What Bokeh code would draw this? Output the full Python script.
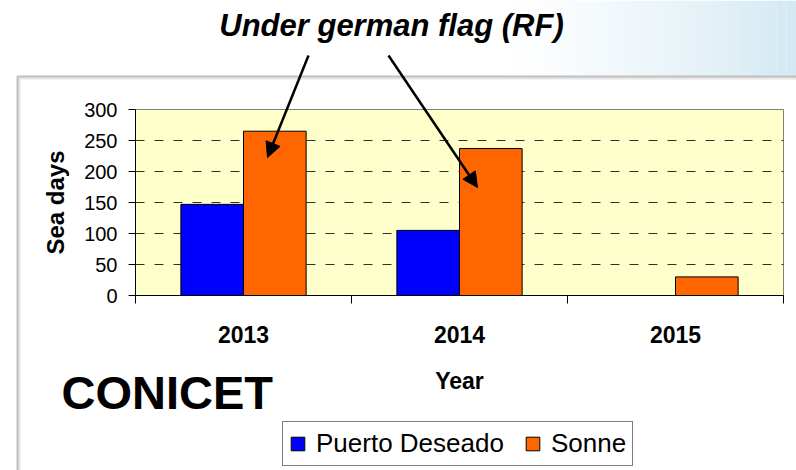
from bokeh.plotting import figure
from bokeh.models import (Range1d, FixedTicker, Label, Arrow, NormalHead, BoxAnnotation,
                          Legend, LegendItem, ColumnDataSource)
from bokeh.embed import file_html
from bokeh.resources import INLINE

# ---- data ----
years = ["2013", "2014", "2015"]
puerto_deseado = [147, 105, 0]
sonne = [265, 237, 30]
y_ticks = [0, 50, 100, 150, 200, 250, 300]
series_names = ["Puerto Deseado", "Sonne"]
series_colors = ["#0000FF", "#FF6600"]

FONT = "Liberation Sans"
W, H = 796, 470
# plot area (pixels from the top-left of the canvas)
PL, PR, PT, PB = 135, 783, 109, 295
NX, YMAX = len(years), y_ticks[-1]
SX = (PR - PL) / NX          # px per category
SY = (PB - PT) / YMAX        # px per day


def dx(px):  # canvas pixel -> data x
    return (px - PL) / SX


def dy(py):  # canvas pixel -> data y
    return (PB - py) / SY


pos = [i + 0.5 for i in range(NX)]
bw = 0.29
src = ColumnDataSource(dict(
    xb=[p_ - bw / 2 for p_ in pos], xo=[p_ + bw / 2 for p_ in pos],
    pd=puerto_deseado, so=sonne))

p = figure(width=W, height=H, output_backend="svg", toolbar_location=None,
           x_range=Range1d(dx(0), dx(W)), y_range=Range1d(dy(H), dy(0)),
           min_border=0, min_border_left=0, min_border_right=0,
           min_border_top=0, min_border_bottom=0)
p.background_fill_color = "white"
p.border_fill_color = "white"
p.outline_line_color = None
p.xgrid.visible = False
p.ygrid.visible = False

# top-right bluish gradient band
nstrip = 30
x0, x1 = 500, W
for i in range(nstrip):
    a = ((i + 1) / nstrip) ** 1.3
    p.add_layout(BoxAnnotation(left=dx(x0 + (x1 - x0) * i / nstrip),
                               right=dx(x0 + (x1 - x0) * (i + 1) / nstrip),
                               bottom=dy(75), top=dy(0),
                               fill_color="#d2e8f2", fill_alpha=a * 0.95,
                               line_color=None, level="underlay"))

# slide box (with soft shadow)
p.add_layout(BoxAnnotation(left=dx(19), right=dx(W + 50), top=dy(78), bottom=dy(H + 50),
                           fill_color=None, line_color="#aaaaaa", line_width=2,
                           level="underlay"))
p.add_layout(BoxAnnotation(left=dx(17), right=dx(W + 50), top=dy(76), bottom=dy(H + 50),
                           fill_color=None, line_color="#2a2a2a", line_width=2,
                           level="underlay"))

# plot area background
p.quad(left=[0], right=[NX], bottom=[0], top=[YMAX], fill_color="#FFFFCC",
       line_color="#808080", line_width=1)
# dashed value grid
p.segment(x0=[0] * (len(y_ticks) - 2), x1=[NX] * (len(y_ticks) - 2),
          y0=y_ticks[1:-1], y1=y_ticks[1:-1], line_color="#303030",
          line_dash="9 10", line_width=1)

r1 = p.vbar(x="xb", top="pd", width=bw, source=src, fill_color=series_colors[0],
            line_color="black", line_width=1)
r2 = p.vbar(x="xo", top="so", width=bw, source=src, fill_color=series_colors[1],
            line_color="black", line_width=1)

# x axis: labels at category centres, ticks between categories
xa = p.xaxis[0]
xa.fixed_location = 0
xa.bounds = (0, NX)
xa.ticker = FixedTicker(ticks=pos, minor_ticks=list(range(NX + 1)))
xa.major_label_overrides = {p_: y for p_, y in zip(pos, years)}
xa.major_tick_out = 0
xa.major_tick_in = 0
xa.minor_tick_out = 8
xa.minor_tick_in = 0
xa.axis_line_color = "black"
xa.minor_tick_line_color = "black"
xa.major_label_text_font = FONT
xa.major_label_text_font_style = "bold"
xa.major_label_text_font_size = "23px"
xa.major_label_text_color = "black"
xa.major_label_standoff = 22
xa.axis_label = "Year"
xa.axis_label_text_font = FONT
xa.axis_label_text_font_style = "bold"
xa.axis_label_text_font_size = "23px"
xa.axis_label_text_color = "black"
xa.axis_label_standoff = 22

ya = p.yaxis[0]
ya.fixed_location = 0
ya.bounds = (0, YMAX)
ya.ticker = FixedTicker(ticks=y_ticks)
ya.major_tick_out = 7
ya.major_tick_in = 0
ya.minor_tick_out = 0
ya.minor_tick_in = 0
ya.axis_line_color = "black"
ya.major_tick_line_color = "black"
ya.major_label_text_font = FONT
ya.major_label_text_font_size = "20px"
ya.major_label_text_color = "black"
ya.major_label_standoff = 11
ya.axis_label = "Sea days"
ya.axis_label_text_font = FONT
ya.axis_label_text_font_style = "bold"
ya.axis_label_text_font_size = "24px"
ya.axis_label_text_color = "black"
ya.axis_label_standoff = 12

# annotation texts
p.add_layout(Label(x=dx(391), y=dy(25), text="Under german flag (RF)",
                   text_font=FONT, text_font_style="bold italic", text_font_size="31px",
                   text_align="center", text_baseline="alphabetic", text_color="black"))
p.add_layout(Label(x=dx(61), y=dy(392), text="CONICET",
                   text_font=FONT, text_font_style="bold", text_font_size="47px",
                   text_align="left", text_baseline="alphabetic", text_color="black"))

# arrows
for (xs, ys, xe, ye) in [(308, 55, 267, 157), (388, 55, 477, 187)]:
    p.add_layout(Arrow(end=NormalHead(size=15, fill_color="black", line_color="black"),
                       x_start=dx(xs), y_start=dy(ys), x_end=dx(xe), y_end=dy(ye),
                       line_color="black", line_width=2.5))

legend = Legend(items=[LegendItem(label=series_names[0], renderers=[r1]),
                       LegendItem(label=series_names[1], renderers=[r2])],
                orientation="horizontal", location=(282, H - 466),
                border_line_color="black", border_line_width=1,
                background_fill_color="white", background_fill_alpha=1,
                label_text_font=FONT, label_text_font_size="26px", label_text_color="black",
                glyph_width=17, glyph_height=17, label_standoff=10, spacing=20,
                label_height=20, padding=6, margin=0)
p.add_layout(legend)

open("out.html", "w").write(file_html(p, INLINE))
